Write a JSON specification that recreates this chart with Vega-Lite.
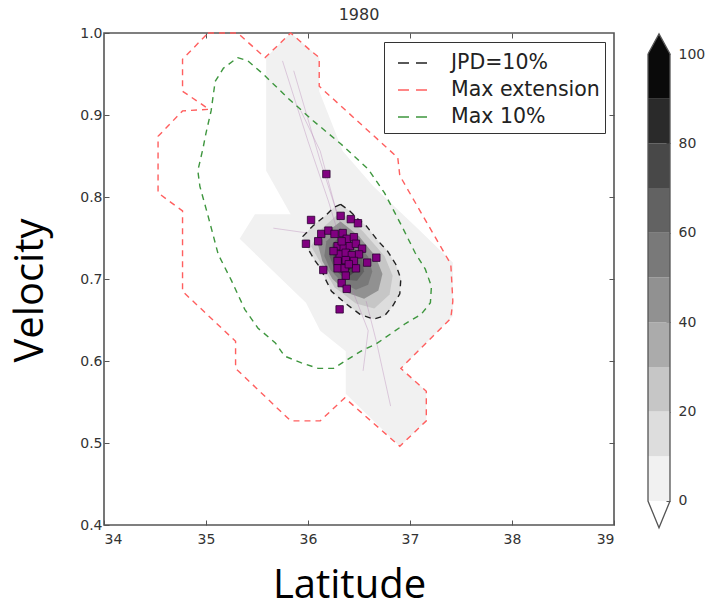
{
  "$schema": "https://vega.github.io/schema/vega-lite/v6.json",
  "background": "white",
  "padding": {"left": 9, "top": 6, "right": 0, "bottom": 0},
  "spacing": 29,
  "resolve": {"scale": {"color": "independent", "fill": "independent"}, "legend": {"color": "independent", "fill": "independent"}},
  "datasets": {
    "poly": [
      {"level":5,"i":0,"lat":35.59,"vel":0.970},{"level":5,"i":1,"lat":35.83,"vel":1.0},{"level":5,"i":2,"lat":36.11,"vel":0.970},{"level":5,"i":3,"lat":36.11,"vel":0.929},{"level":5,"i":4,"lat":36.34,"vel":0.856},{"level":5,"i":5,"lat":36.64,"vel":0.813},{"level":5,"i":6,"lat":37.08,"vel":0.761},{"level":5,"i":7,"lat":37.42,"vel":0.720},{"level":5,"i":8,"lat":37.42,"vel":0.655},{"level":5,"i":9,"lat":36.91,"vel":0.591},{"level":5,"i":10,"lat":37.16,"vel":0.563},{"level":5,"i":11,"lat":37.16,"vel":0.527},{"level":5,"i":12,"lat":36.90,"vel":0.496},{"level":5,"i":13,"lat":36.37,"vel":0.560},{"level":5,"i":14,"lat":36.37,"vel":0.612},{"level":5,"i":15,"lat":36.12,"vel":0.637},{"level":5,"i":16,"lat":35.98,"vel":0.671},{"level":5,"i":17,"lat":35.33,"vel":0.749},{"level":5,"i":18,"lat":35.48,"vel":0.779},{"level":5,"i":19,"lat":35.83,"vel":0.779},{"level":5,"i":20,"lat":35.59,"vel":0.832},{"level":5,"i":21,"lat":35.59,"vel":0.970},
      {"level":15,"i":0,"lat":36.32,"vel":0.791},{"level":15,"i":1,"lat":36.41,"vel":0.783},{"level":15,"i":2,"lat":36.49,"vel":0.773},{"level":15,"i":3,"lat":36.57,"vel":0.765},{"level":15,"i":4,"lat":36.69,"vel":0.746},{"level":15,"i":5,"lat":36.78,"vel":0.734},{"level":15,"i":6,"lat":36.86,"vel":0.718},{"level":15,"i":7,"lat":36.91,"vel":0.700},{"level":15,"i":8,"lat":36.90,"vel":0.682},{"level":15,"i":9,"lat":36.83,"vel":0.667},{"level":15,"i":10,"lat":36.75,"vel":0.655},{"level":15,"i":11,"lat":36.64,"vel":0.651},{"level":15,"i":12,"lat":36.51,"vel":0.657},{"level":15,"i":13,"lat":36.37,"vel":0.670},{"level":15,"i":14,"lat":36.23,"vel":0.685},{"level":15,"i":15,"lat":36.17,"vel":0.700},{"level":15,"i":16,"lat":36.13,"vel":0.712},{"level":15,"i":17,"lat":36.07,"vel":0.722},{"level":15,"i":18,"lat":35.97,"vel":0.743},{"level":15,"i":19,"lat":35.95,"vel":0.752},{"level":15,"i":20,"lat":36.05,"vel":0.765},{"level":15,"i":21,"lat":36.17,"vel":0.777},{"level":15,"i":22,"lat":36.25,"vel":0.787},{"level":15,"i":23,"lat":36.32,"vel":0.791},
      {"level":25,"i":0,"lat":36.32,"vel":0.782},{"level":25,"i":1,"lat":36.54,"vel":0.758},{"level":25,"i":2,"lat":36.75,"vel":0.728},{"level":25,"i":3,"lat":36.83,"vel":0.704},{"level":25,"i":4,"lat":36.80,"vel":0.681},{"level":25,"i":5,"lat":36.65,"vel":0.664},{"level":25,"i":6,"lat":36.47,"vel":0.670},{"level":25,"i":7,"lat":36.26,"vel":0.690},{"level":25,"i":8,"lat":36.14,"vel":0.716},{"level":25,"i":9,"lat":36.03,"vel":0.740},{"level":25,"i":10,"lat":36.14,"vel":0.762},{"level":25,"i":11,"lat":36.32,"vel":0.782},
      {"level":45,"i":0,"lat":36.32,"vel":0.770},{"level":45,"i":1,"lat":36.50,"vel":0.752},{"level":45,"i":2,"lat":36.66,"vel":0.728},{"level":45,"i":3,"lat":36.73,"vel":0.706},{"level":45,"i":4,"lat":36.69,"vel":0.686},{"level":45,"i":5,"lat":36.55,"vel":0.676},{"level":45,"i":6,"lat":36.39,"vel":0.683},{"level":45,"i":7,"lat":36.24,"vel":0.700},{"level":45,"i":8,"lat":36.14,"vel":0.722},{"level":45,"i":9,"lat":36.10,"vel":0.741},{"level":45,"i":10,"lat":36.19,"vel":0.758},{"level":45,"i":11,"lat":36.32,"vel":0.770},
      {"level":55,"i":0,"lat":36.32,"vel":0.762},{"level":55,"i":1,"lat":36.47,"vel":0.746},{"level":55,"i":2,"lat":36.59,"vel":0.727},{"level":55,"i":3,"lat":36.63,"vel":0.709},{"level":55,"i":4,"lat":36.59,"vel":0.693},{"level":55,"i":5,"lat":36.47,"vel":0.687},{"level":55,"i":6,"lat":36.34,"vel":0.695},{"level":55,"i":7,"lat":36.22,"vel":0.711},{"level":55,"i":8,"lat":36.16,"vel":0.728},{"level":55,"i":9,"lat":36.18,"vel":0.746},{"level":55,"i":10,"lat":36.32,"vel":0.762},
      {"level":65,"i":0,"lat":36.32,"vel":0.753},{"level":65,"i":1,"lat":36.44,"vel":0.741},{"level":65,"i":2,"lat":36.53,"vel":0.724},{"level":65,"i":3,"lat":36.55,"vel":0.709},{"level":65,"i":4,"lat":36.48,"vel":0.698},{"level":65,"i":5,"lat":36.37,"vel":0.699},{"level":65,"i":6,"lat":36.26,"vel":0.712},{"level":65,"i":7,"lat":36.21,"vel":0.728},{"level":65,"i":8,"lat":36.24,"vel":0.743},{"level":65,"i":9,"lat":36.32,"vel":0.753},
      {"level":75,"i":0,"lat":36.33,"vel":0.745},{"level":75,"i":1,"lat":36.42,"vel":0.736},{"level":75,"i":2,"lat":36.48,"vel":0.722},{"level":75,"i":3,"lat":36.48,"vel":0.711},{"level":75,"i":4,"lat":36.41,"vel":0.704},{"level":75,"i":5,"lat":36.32,"vel":0.708},{"level":75,"i":6,"lat":36.25,"vel":0.721},{"level":75,"i":7,"lat":36.25,"vel":0.735},{"level":75,"i":8,"lat":36.33,"vel":0.745},
      {"level":85,"i":0,"lat":36.34,"vel":0.738},{"level":85,"i":1,"lat":36.41,"vel":0.730},{"level":85,"i":2,"lat":36.44,"vel":0.720},{"level":85,"i":3,"lat":36.41,"vel":0.711},{"level":85,"i":4,"lat":36.34,"vel":0.712},{"level":85,"i":5,"lat":36.28,"vel":0.722},{"level":85,"i":6,"lat":36.28,"vel":0.732},{"level":85,"i":7,"lat":36.34,"vel":0.738},
      {"level":95,"i":0,"lat":36.35,"vel":0.731},{"level":95,"i":1,"lat":36.40,"vel":0.725},{"level":95,"i":2,"lat":36.40,"vel":0.716},{"level":95,"i":3,"lat":36.35,"vel":0.715},{"level":95,"i":4,"lat":36.30,"vel":0.722},{"level":95,"i":5,"lat":36.31,"vel":0.728},{"level":95,"i":6,"lat":36.35,"vel":0.731}
    ],
    "contours": [
      {"s":"JPD=10%","i":0,"lat":36.32,"vel":0.791},{"s":"JPD=10%","i":1,"lat":36.41,"vel":0.783},{"s":"JPD=10%","i":2,"lat":36.49,"vel":0.773},{"s":"JPD=10%","i":3,"lat":36.57,"vel":0.765},{"s":"JPD=10%","i":4,"lat":36.69,"vel":0.746},{"s":"JPD=10%","i":5,"lat":36.78,"vel":0.734},{"s":"JPD=10%","i":6,"lat":36.86,"vel":0.718},{"s":"JPD=10%","i":7,"lat":36.91,"vel":0.700},{"s":"JPD=10%","i":8,"lat":36.90,"vel":0.682},{"s":"JPD=10%","i":9,"lat":36.83,"vel":0.667},{"s":"JPD=10%","i":10,"lat":36.75,"vel":0.655},{"s":"JPD=10%","i":11,"lat":36.64,"vel":0.651},{"s":"JPD=10%","i":12,"lat":36.51,"vel":0.657},{"s":"JPD=10%","i":13,"lat":36.37,"vel":0.670},{"s":"JPD=10%","i":14,"lat":36.23,"vel":0.685},{"s":"JPD=10%","i":15,"lat":36.17,"vel":0.700},{"s":"JPD=10%","i":16,"lat":36.13,"vel":0.712},{"s":"JPD=10%","i":17,"lat":36.07,"vel":0.722},{"s":"JPD=10%","i":18,"lat":35.97,"vel":0.743},{"s":"JPD=10%","i":19,"lat":35.95,"vel":0.752},{"s":"JPD=10%","i":20,"lat":36.05,"vel":0.765},{"s":"JPD=10%","i":21,"lat":36.17,"vel":0.777},{"s":"JPD=10%","i":22,"lat":36.25,"vel":0.787},{"s":"JPD=10%","i":23,"lat":36.32,"vel":0.791},
      {"s":"Max extension","i":0,"lat":35.02,"vel":1.0},{"s":"Max extension","i":1,"lat":35.31,"vel":1.0},{"s":"Max extension","i":2,"lat":35.58,"vel":0.970},{"s":"Max extension","i":3,"lat":35.83,"vel":1.0},{"s":"Max extension","i":4,"lat":36.03,"vel":0.978},{"s":"Max extension","i":5,"lat":36.11,"vel":0.970},{"s":"Max extension","i":6,"lat":36.11,"vel":0.935},{"s":"Max extension","i":7,"lat":36.88,"vel":0.848},{"s":"Max extension","i":8,"lat":36.90,"vel":0.826},{"s":"Max extension","i":9,"lat":37.40,"vel":0.718},{"s":"Max extension","i":10,"lat":37.42,"vel":0.673},{"s":"Max extension","i":11,"lat":37.40,"vel":0.652},{"s":"Max extension","i":12,"lat":36.91,"vel":0.591},{"s":"Max extension","i":13,"lat":37.16,"vel":0.563},{"s":"Max extension","i":14,"lat":37.16,"vel":0.527},{"s":"Max extension","i":15,"lat":36.90,"vel":0.496},{"s":"Max extension","i":16,"lat":36.36,"vel":0.555},{"s":"Max extension","i":17,"lat":36.12,"vel":0.527},{"s":"Max extension","i":18,"lat":35.83,"vel":0.527},{"s":"Max extension","i":19,"lat":35.29,"vel":0.591},{"s":"Max extension","i":20,"lat":35.29,"vel":0.624},{"s":"Max extension","i":21,"lat":34.77,"vel":0.685},{"s":"Max extension","i":22,"lat":34.77,"vel":0.783},{"s":"Max extension","i":23,"lat":34.53,"vel":0.805},{"s":"Max extension","i":24,"lat":34.53,"vel":0.874},{"s":"Max extension","i":25,"lat":34.77,"vel":0.905},{"s":"Max extension","i":26,"lat":35.03,"vel":0.907},{"s":"Max extension","i":27,"lat":34.77,"vel":0.929},{"s":"Max extension","i":28,"lat":34.77,"vel":0.968},{"s":"Max extension","i":29,"lat":35.02,"vel":1.0},
      {"s":"Max 10%","i":0,"lat":35.31,"vel":0.970},{"s":"Max 10%","i":1,"lat":35.41,"vel":0.966},{"s":"Max 10%","i":2,"lat":35.56,"vel":0.950},{"s":"Max 10%","i":3,"lat":35.80,"vel":0.921},{"s":"Max 10%","i":4,"lat":36.05,"vel":0.893},{"s":"Max 10%","i":5,"lat":36.32,"vel":0.865},{"s":"Max 10%","i":6,"lat":36.59,"vel":0.834},{"s":"Max 10%","i":7,"lat":36.75,"vel":0.805},{"s":"Max 10%","i":8,"lat":36.93,"vel":0.762},{"s":"Max 10%","i":9,"lat":37.05,"vel":0.732},{"s":"Max 10%","i":10,"lat":37.15,"vel":0.712},{"s":"Max 10%","i":11,"lat":37.21,"vel":0.691},{"s":"Max 10%","i":12,"lat":37.20,"vel":0.671},{"s":"Max 10%","i":13,"lat":37.11,"vel":0.657},{"s":"Max 10%","i":14,"lat":36.96,"vel":0.646},{"s":"Max 10%","i":15,"lat":36.81,"vel":0.633},{"s":"Max 10%","i":16,"lat":36.67,"vel":0.621},{"s":"Max 10%","i":17,"lat":36.52,"vel":0.612},{"s":"Max 10%","i":18,"lat":36.39,"vel":0.602},{"s":"Max 10%","i":19,"lat":36.25,"vel":0.591},{"s":"Max 10%","i":20,"lat":36.10,"vel":0.591},{"s":"Max 10%","i":21,"lat":35.93,"vel":0.598},{"s":"Max 10%","i":22,"lat":35.77,"vel":0.606},{"s":"Max 10%","i":23,"lat":35.68,"vel":0.622},{"s":"Max 10%","i":24,"lat":35.51,"vel":0.640},{"s":"Max 10%","i":25,"lat":35.38,"vel":0.663},{"s":"Max 10%","i":26,"lat":35.25,"vel":0.698},{"s":"Max 10%","i":27,"lat":35.12,"vel":0.730},{"s":"Max 10%","i":28,"lat":35.02,"vel":0.777},{"s":"Max 10%","i":29,"lat":34.94,"vel":0.813},{"s":"Max 10%","i":30,"lat":34.92,"vel":0.832},{"s":"Max 10%","i":31,"lat":34.97,"vel":0.859},{"s":"Max 10%","i":32,"lat":35.00,"vel":0.878},{"s":"Max 10%","i":33,"lat":35.05,"vel":0.905},{"s":"Max 10%","i":34,"lat":35.09,"vel":0.941},{"s":"Max 10%","i":35,"lat":35.17,"vel":0.957},{"s":"Max 10%","i":36,"lat":35.31,"vel":0.970}
    ],
    "tracks": [
      {"t":"A","i":0,"lat":35.75,"vel":0.966},{"t":"A","i":1,"lat":36.00,"vel":0.868},{"t":"A","i":2,"lat":36.20,"vel":0.795},{"t":"A","i":3,"lat":36.32,"vel":0.746},
      {"t":"B","i":0,"lat":35.86,"vel":0.954},{"t":"B","i":1,"lat":36.12,"vel":0.844},{"t":"B","i":2,"lat":36.34,"vel":0.759},
      {"t":"C","i":0,"lat":35.93,"vel":0.905},{"t":"C","i":1,"lat":36.12,"vel":0.856},{"t":"C","i":2,"lat":36.29,"vel":0.777},
      {"t":"D","i":0,"lat":35.66,"vel":0.762},{"t":"D","i":1,"lat":36.00,"vel":0.756},
      {"t":"E","i":0,"lat":36.57,"vel":0.673},{"t":"E","i":1,"lat":36.67,"vel":0.624},{"t":"E","i":2,"lat":36.81,"vel":0.545},
      {"t":"F","i":0,"lat":36.44,"vel":0.685},{"t":"F","i":1,"lat":36.59,"vel":0.637},{"t":"F","i":2,"lat":36.54,"vel":0.588}
    ],
    "pts": [
      {"lat":36.18,"vel":0.828},{"lat":36.03,"vel":0.772},{"lat":36.32,"vel":0.777},{"lat":36.42,"vel":0.773},{"lat":36.49,"vel":0.768},{"lat":36.13,"vel":0.755},{"lat":36.20,"vel":0.759},{"lat":36.26,"vel":0.755},{"lat":36.34,"vel":0.756},{"lat":36.38,"vel":0.749},{"lat":36.45,"vel":0.751},{"lat":36.10,"vel":0.746},{"lat":35.98,"vel":0.743},{"lat":36.29,"vel":0.740},{"lat":36.35,"vel":0.738},{"lat":36.41,"vel":0.740},{"lat":36.47,"vel":0.743},{"lat":36.53,"vel":0.737},{"lat":36.31,"vel":0.730},{"lat":36.37,"vel":0.732},{"lat":36.43,"vel":0.729},{"lat":36.50,"vel":0.730},{"lat":36.29,"vel":0.722},{"lat":36.37,"vel":0.723},{"lat":36.45,"vel":0.722},{"lat":36.67,"vel":0.726},{"lat":36.58,"vel":0.720},{"lat":36.29,"vel":0.713},{"lat":36.36,"vel":0.713},{"lat":36.47,"vel":0.713},{"lat":36.15,"vel":0.711},{"lat":36.37,"vel":0.704},{"lat":36.33,"vel":0.695},{"lat":36.38,"vel":0.688},{"lat":36.31,"vel":0.663},{"lat":36.25,"vel":0.734},{"lat":36.40,"vel":0.718},{"lat":36.33,"vel":0.746}
    ],
    "cbar": [
      {"lo":0,"hi":10,"level":5},{"lo":10,"hi":20,"level":15},{"lo":20,"hi":30,"level":25},{"lo":30,"hi":40,"level":35},{"lo":40,"hi":50,"level":45},{"lo":50,"hi":60,"level":55},{"lo":60,"hi":70,"level":65},{"lo":70,"hi":80,"level":75},{"lo":80,"hi":90,"level":85},{"lo":90,"hi":100,"level":95}
    ],
    "tri": [
      {"i":0,"x":0,"y":100},{"i":1,"x":0.5,"y":104.5},{"i":2,"x":1,"y":100}
    ],
    "cbo": [
      {"i":0,"x":0,"y":100},{"i":1,"x":0.5,"y":104.5},{"i":2,"x":1,"y":100},{"i":3,"x":1,"y":0},{"i":4,"x":0.5,"y":-6},{"i":5,"x":0,"y":0},{"i":6,"x":0,"y":100}
    ]
  },
  "hconcat": [
    {
      "width": 510,
      "height": 492,
      "title": {"text": "1980", "font": "DejaVu Sans", "fontSize": 16, "fontWeight": "normal", "color": "#333", "offset": 3},
      "layer": [
        {
          "data": {"name": "poly"},
          "mark": {"type": "line", "strokeWidth": 0},
          "encoding": {
            "x": {"field": "lat", "type": "quantitative", "scale": {"domain": [34, 39], "nice": false, "zero": false},
                  "axis": {"orient": "bottom", "values": [34, 35, 36, 37, 38, 39], "format": "d", "tickSize": -5, "labelPadding": 12,
                           "title": "Latitude", "titleFont": "Open Sans", "titleFontSize": 40, "titleFontWeight": "normal", "titleColor": "#000", "titlePadding": 19, "titleX": 245}},
            "y": {"field": "vel", "type": "quantitative", "scale": {"domain": [0.4, 1.0], "nice": false, "zero": false},
                  "axis": {"orient": "left", "values": [0.4, 0.5, 0.6, 0.7, 0.8, 0.9, 1.0], "format": ".1f", "tickSize": -5, "labelPadding": 7,
                           "title": "Velocity", "titleFont": "Open Sans", "titleFontSize": 40, "titleFontWeight": "normal", "titleColor": "#000", "titlePadding": 29, "titleY": 257}},
            "fill": {"field": "level", "type": "quantitative",
                     "scale": {"type": "threshold", "domain": [10, 20, 30, 40, 50, 60, 70, 80, 90],
                               "range": ["#f1f1f1", "#dddddd", "#c6c6c6", "#ababab", "#919191", "#797979", "#626262", "#484848", "#2a2a2a", "#0a0a0a"]},
                     "legend": null},
            "detail": {"field": "level"},
            "order": {"field": "i", "type": "quantitative"}
          }
        },
        {
          "data": {"name": "tracks"},
          "mark": {"type": "line", "color": "#b07ab0", "strokeWidth": 0.8, "opacity": 0.45},
          "encoding": {
            "x": {"field": "lat", "type": "quantitative", "axis": null},
            "y": {"field": "vel", "type": "quantitative", "axis": null},
            "detail": {"field": "t"},
            "order": {"field": "i", "type": "quantitative"}
          }
        },
        {
          "data": {"name": "contours"},
          "mark": {"type": "line", "strokeDash": [6, 5], "strokeWidth": 1.4},
          "encoding": {
            "x": {"field": "lat", "type": "quantitative", "axis": null},
            "y": {"field": "vel", "type": "quantitative", "axis": null},
            "color": {"field": "s", "type": "nominal",
                      "scale": {"domain": ["JPD=10%", "Max extension", "Max 10%"], "range": ["#222222", "#ff5f5f", "#3e963e"]},
                      "legend": {"orient": "top-right", "offset": 9, "title": null, "symbolType": "stroke", "symbolSize": 900,
                                 "symbolDash": [11, 7], "symbolStrokeWidth": 1.6, "labelFont": "DejaVu Sans", "labelFontSize": 20.5,
                                 "labelColor": "#222", "labelOffset": 22, "strokeColor": "#333", "fillColor": "white",
                                 "padding": 5, "rowPadding": 0, "symbolOffset": 8, "cornerRadius": 0}},
            "order": {"field": "i", "type": "quantitative"}
          }
        },
        {
          "data": {"name": "pts"},
          "mark": {"type": "point", "shape": "square", "filled": true, "size": 55, "fill": "#800080", "stroke": "#2a0030", "strokeWidth": 0.8, "opacity": 1},
          "encoding": {
            "x": {"field": "lat", "type": "quantitative",
                  "axis": {"orient": "top", "values": [35, 36, 37, 38], "labels": false, "tickSize": -5, "title": null}},
            "y": {"field": "vel", "type": "quantitative",
                  "axis": {"orient": "right", "values": [0.5, 0.6, 0.7, 0.8, 0.9], "labels": false, "tickSize": -5, "title": null}}
          }
        }
      ],
      "resolve": {"axis": {"x": "independent", "y": "independent"}}
    },
    {
      "width": 22,
      "height": 492,
      "view": {"stroke": null},
      "layer": [
        {
          "data": {"name": "cbar"},
          "mark": {"type": "rect"},
          "encoding": {
            "x": {"datum": 0, "type": "quantitative", "scale": {"domain": [0, 1], "nice": false, "zero": false}, "axis": null},
            "x2": {"datum": 1},
            "y": {"field": "lo", "type": "quantitative", "scale": {"domain": [-5.37, 104.7], "nice": false, "zero": false},
                  "axis": {"orient": "right", "values": [0, 20, 40, 60, 80, 100], "tickSize": -4, "labelPadding": 12, "title": null}},
            "y2": {"field": "hi"},
            "fill": {"field": "level", "type": "quantitative",
                     "scale": {"type": "threshold", "domain": [10, 20, 30, 40, 50, 60, 70, 80, 90],
                               "range": ["#f1f1f1", "#dddddd", "#c6c6c6", "#ababab", "#919191", "#797979", "#626262", "#484848", "#2a2a2a", "#0a0a0a"]},
                     "legend": null}
          }
        },
        {
          "data": {"name": "tri"},
          "mark": {"type": "line", "fill": "#0a0a0a", "strokeWidth": 0},
          "encoding": {
            "x": {"field": "x", "type": "quantitative", "axis": null},
            "y": {"field": "y", "type": "quantitative", "axis": null},
            "order": {"field": "i", "type": "quantitative"}
          }
        },
        {
          "data": {"name": "cbo"},
          "mark": {"type": "line", "color": "#555", "strokeWidth": 1.3},
          "encoding": {
            "x": {"field": "x", "type": "quantitative", "axis": null},
            "y": {"field": "y", "type": "quantitative", "axis": null},
            "order": {"field": "i", "type": "quantitative"}
          }
        }
      ],
      "resolve": {"axis": {"x": "independent", "y": "independent"}}
    }
  ],
  "config": {
    "view": {"stroke": "#555", "strokeWidth": 1.6},
    "axis": {"domain": false, "grid": false, "labelFont": "DejaVu Sans", "labelFontSize": 14, "labelColor": "#333", "tickColor": "#555", "tickWidth": 1},
    "font": "DejaVu Sans"
  }
}
